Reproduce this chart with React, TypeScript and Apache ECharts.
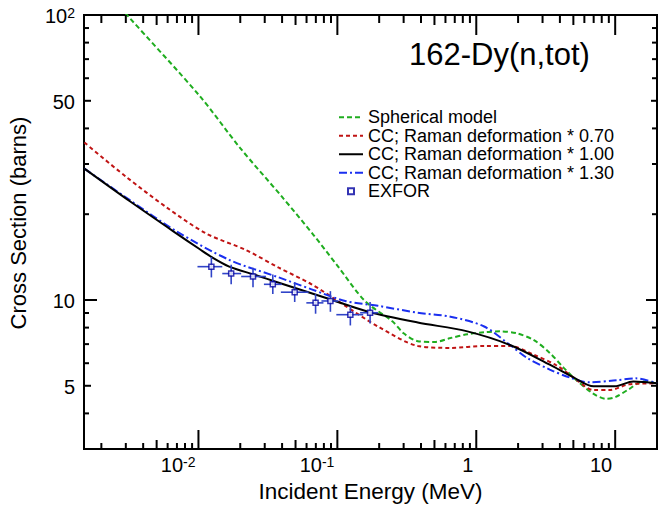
import React, { useEffect, useRef } from "react";
import * as echarts from "echarts";

// ---- Data ----
const sphE = [0.0025, 0.00306, 0.0102, 0.02, 0.04, 0.0674, 0.1, 0.158, 0.25, 0.3, 0.379, 0.501, 0.652, 0.862, 1.14, 1.48, 1.96, 2.6, 3.38, 4.25, 5.26, 7.0, 8.63, 10.1, 12.6, 15.85, 20];
const sphS = [112, 100, 52, 34.1, 23.0, 16.9, 13.2, 9.92, 8.4, 7.64, 7.17, 7.12, 7.35, 7.58, 7.7, 7.76, 7.64, 7.23, 6.52, 5.79, 5.23, 4.68, 4.5, 4.57, 4.87, 5.18, 5.1];

const cc070E = [0.00151, 0.003, 0.006, 0.0114, 0.022, 0.0379, 0.0652, 0.114, 0.196, 0.379, 0.652, 1.14, 1.75, 2.6, 3.79, 5.0, 7.0, 9.1, 12.6, 20];
const cc070S = [35.7, 27.1, 21.0, 17.1, 14.97, 12.98, 11.35, 9.54, 8.07, 6.9, 6.79, 6.9, 6.9, 6.42, 5.89, 5.35, 4.83, 4.83, 5.06, 5.1];

const cc100E = [0.00151, 0.00321, 0.00697, 0.01017, 0.01239, 0.01665, 0.0251, 0.0379, 0.0863, 0.1665, 0.379, 0.862, 1.75, 3.38, 5.01, 7.0, 9.9, 13.5, 20];
const cc100S = [28.9, 22.2, 17.1, 15.1, 14.16, 13.1, 12.28, 11.5, 10.1, 9.1, 8.34, 7.76, 6.95, 5.93, 5.35, 4.98, 4.98, 5.18, 5.1];

const cc130E = [0.00151, 0.00321, 0.00697, 0.01665, 0.0379, 0.0652, 0.114, 0.196, 0.379, 0.652, 1.14, 1.75, 2.31, 3.38, 4.69, 6.52, 10.2, 14.1, 20];
const cc130S = [28.9, 22.4, 17.4, 13.83, 12.0, 10.9, 9.92, 9.54, 9.02, 8.74, 8.07, 6.95, 6.27, 5.7, 5.35, 5.14, 5.23, 5.31, 5.1];

const exforE = [0.01239, 0.0172, 0.0247, 0.0343, 0.0493, 0.0697, 0.0891, 0.124, 0.172];
const exforS = [13.09, 12.38, 12.09, 11.35, 10.65, 9.77, 9.92, 8.88, 9.02];
const exforElo = [0.00984, 0.01484, 0.0203, 0.0296, 0.0392, 0.0598, 0.0768, 0.0983, 0.1458];
const exforEhi = [0.01484, 0.0203, 0.0306, 0.0398, 0.0621, 0.0794, 0.1017, 0.1535, 0.196];
const exforSlo = [12.0, 11.35, 11.08, 10.49, 9.84, 8.95, 9.09, 8.14, 8.27];
const exforShi = [14.16, 13.3, 12.98, 12.28, 11.53, 10.49, 10.74, 9.54, 9.84];

const seriesNames = [
  "Spherical model",
  "CC; Raman deformation * 0.70",
  "CC; Raman deformation * 1.00",
  "CC; Raman deformation * 1.30",
  "EXFOR",
];

// Axis ranges and tick labels
const xMin = 0.0015;
const xMax = 20;
const yMin = 3;
const yMax = 100;
const xLabelValues = [0.01, 0.1, 1, 10];
const xLabelBase = ["10", "10", "1", "10"];
const xLabelExp = ["-2", "-1", "", ""];
const yLabelValues = [100, 50, 10, 5];
const yLabelBase = ["10", "50", "10", "5"];
const yLabelExp = ["2", "", "", ""];
const decades = [0.001, 0.01, 0.1, 1, 10, 100];

const FONT = "'Liberation Sans', Arial, Helvetica, sans-serif";

function pairs(e: number[], s: number[]) {
  return e.map((v, i) => [v, s[i]]);
}

function buildTicks(lo: number, hi: number) {
  const out: { v: number; kind: number }[] = [];
  for (const d of decades) {
    for (let m = 1; m <= 9; m++) {
      const v = d * m;
      if (v >= lo * 0.9999 && v <= hi * 1.0001) {
        out.push({ v, kind: m === 1 ? 2 : m === 5 ? 1 : 0 });
      }
    }
  }
  return out;
}

export default function App() {
  const ref = useRef<HTMLDivElement>(null);

  useEffect(() => {
    if (!ref.current) return;
    const chart = echarts.init(ref.current, undefined, { renderer: "svg" });

    const xTicks = buildTicks(xMin, xMax);
    const yTicks = buildTicks(yMin, yMax);

    const rich = {
      b: { fontSize: 20, fontFamily: FONT, color: "#000" },
      s: { fontSize: 14, fontFamily: FONT, color: "#000", verticalAlign: "top" },
    };
    const labelText = (b: string, e: string) => (e ? `{b|${b}}{s|${e}}` : `{b|${b}}`);
    const hiddenSymbol = { opacity: 0 };

    const lineCommon = {
      type: "line",
      symbol: "none",
      smooth: 0.3,
      clip: true,
    };

    const option: any = {
      animation: false,
      backgroundColor: "#fff",
      title: {
        text: "162-Dy(n,tot)",
        left: 409,
        top: 39,
        padding: 0,
        textStyle: { fontSize: 31, fontWeight: "normal", fontFamily: FONT, color: "#000" },
      },
      graphic: [
        {
          type: "text",
          x: 18,
          y: 223,
          rotation: Math.PI / 2,
          style: {
            text: "Cross Section (barns)",
            align: "center",
            verticalAlign: "middle",
            fill: "#000",
            fontSize: 22,
            fontFamily: FONT,
          },
        },
      ],
      legend: {
        orient: "vertical",
        left: 338,
        top: 108,
        padding: 0,
        itemWidth: 24,
        itemHeight: 6,
        itemGap: 0,
        selectedMode: false,
        textStyle: { fontSize: 18, fontFamily: FONT, color: "#000", lineHeight: 18.5 },
        data: [
          { name: seriesNames[0], itemStyle: hiddenSymbol },
          { name: seriesNames[1], itemStyle: hiddenSymbol },
          { name: seriesNames[2], itemStyle: hiddenSymbol },
          { name: seriesNames[3], itemStyle: hiddenSymbol },
          { name: seriesNames[4], icon: "path://M0,0H1V1H0Z" },
        ],
      },
      grid: {
        left: 84,
        right: 1,
        top: 15,
        bottom: 50,
        show: true,
        borderColor: "#000",
        borderWidth: 2,
        backgroundColor: "transparent",
      },
      xAxis: {
        type: "log",
        logBase: 10,
        min: xMin,
        max: xMax,
        name: "Incident Energy (MeV)",
        nameLocation: "middle",
        nameGap: 31,
        nameTextStyle: { fontSize: 22.5, fontFamily: FONT, color: "#000" },
        axisLine: { show: false },
        axisTick: { show: false },
        axisLabel: { show: false },
        splitLine: { show: false },
      },
      yAxis: {
        type: "log",
        logBase: 10,
        min: yMin,
        max: yMax,
        axisLine: { show: false },
        axisTick: { show: false },
        axisLabel: { show: false },
        splitLine: { show: false },
      },
      series: [
        {
          ...lineCommon,
          name: seriesNames[0],
          data: pairs(sphE, sphS),
          z: 2,
          lineStyle: { color: "#1fad1f", width: 2, type: [5, 3] },
          itemStyle: { color: "#1fad1f" },
        },
        {
          ...lineCommon,
          name: seriesNames[1],
          data: pairs(cc070E, cc070S),
          z: 2,
          lineStyle: { color: "#c01414", width: 2, type: [4, 3] },
          itemStyle: { color: "#c01414" },
        },
        {
          ...lineCommon,
          name: seriesNames[2],
          data: pairs(cc100E, cc100S),
          z: 3,
          lineStyle: { color: "#000", width: 2, type: "solid" },
          itemStyle: { color: "#000" },
        },
        {
          ...lineCommon,
          name: seriesNames[3],
          data: pairs(cc130E, cc130S),
          z: 2,
          lineStyle: { color: "#1a2ff0", width: 2, type: [8, 3, 2, 3] },
          itemStyle: { color: "#1a2ff0" },
        },
        {
          name: "exfor-errors",
          type: "custom",
          z: 4,
          silent: true,
          data: exforE.map((e, i) => [e, exforS[i], exforElo[i], exforEhi[i], exforSlo[i], exforShi[i]]),
          encode: { x: 0, y: 1 },
          renderItem: (params: any, api: any) => {
            const e = api.value(0);
            const s = api.value(1);
            const h1 = api.coord([api.value(2), s]);
            const h2 = api.coord([api.value(3), s]);
            const v1 = api.coord([e, api.value(4)]);
            const v2 = api.coord([e, api.value(5)]);
            const st = { stroke: "#3044c8", lineWidth: 1.6 };
            return {
              type: "group",
              children: [
                { type: "line", shape: { x1: h1[0], y1: h1[1], x2: h2[0], y2: h2[1] }, style: st },
                { type: "line", shape: { x1: v1[0], y1: v1[1], x2: v2[0], y2: v2[1] }, style: st },
              ],
            };
          },
        },
        {
          name: seriesNames[4],
          type: "scatter",
          z: 5,
          data: pairs(exforE, exforS),
          symbol: "rect",
          symbolSize: 5,
          itemStyle: { color: "#ffffff", borderColor: "#0000a0", borderWidth: 1.5 },
        },
        {
          name: "axis-decor",
          type: "custom",
          z: 10,
          silent: true,
          clip: false,
          data: [[1, 10]],
          encode: { x: 0, y: 1 },
          renderItem: (params: any, api: any) => {
            const children: any[] = [];
            const bl = api.coord([xMin, yMin]);
            const tr = api.coord([xMax, yMax]);
            const left = bl[0];
            const bottom = bl[1];
            const right = tr[0];
            const top = tr[1];
            const st = { stroke: "#000", lineWidth: 2 };
            for (const t of xTicks) {
              const x = api.coord([t.v, yMin])[0];
              const lb = t.kind === 2 ? 19 : t.kind === 1 ? 9 : 6;
              const lt = t.kind === 2 ? 20 : t.kind === 1 ? 10 : 8;
              children.push({ type: "line", shape: { x1: x, y1: bottom, x2: x, y2: bottom - lb }, style: st });
              children.push({ type: "line", shape: { x1: x, y1: top, x2: x, y2: top + lt }, style: st });
            }
            for (const t of yTicks) {
              const y = api.coord([xMin, t.v])[1];
              const ll = t.kind === 2 ? 13 : t.kind === 1 ? 7 : 5;
              const lr = t.kind === 2 ? 11 : t.kind === 1 ? 6 : 5;
              children.push({ type: "line", shape: { x1: left, y1: y, x2: left + ll, y2: y }, style: st });
              children.push({ type: "line", shape: { x1: right, y1: y, x2: right - lr, y2: y }, style: st });
            }
            xLabelValues.forEach((v, i) => {
              const x = api.coord([v, yMin])[0];
              children.push({
                type: "text",
                x: x - 3,
                y: bottom + 16,
                style: {
                  text: labelText(xLabelBase[i], xLabelExp[i]),
                  rich,
                  align: "right",
                  verticalAlign: "middle",
                  fill: "#000",
                  fontSize: 20,
                  fontFamily: FONT,
                },
              });
            });
            yLabelValues.forEach((v, i) => {
              const y = api.coord([xMin, v])[1];
              children.push({
                type: "text",
                x: left - 9,
                y: y + 1,
                style: {
                  text: labelText(yLabelBase[i], yLabelExp[i]),
                  rich,
                  align: "right",
                  verticalAlign: "middle",
                  fill: "#000",
                  fontSize: 20,
                  fontFamily: FONT,
                },
              });
            });
            return { type: "group", children };
          },
        },
      ],
    };

    chart.setOption(option);
    return () => chart.dispose();
  }, []);

  return (
    <div
      ref={ref}
      style={{ position: "absolute", left: 0, top: 0, width: 658, height: 508, background: "#fff" }}
    />
  );
}
